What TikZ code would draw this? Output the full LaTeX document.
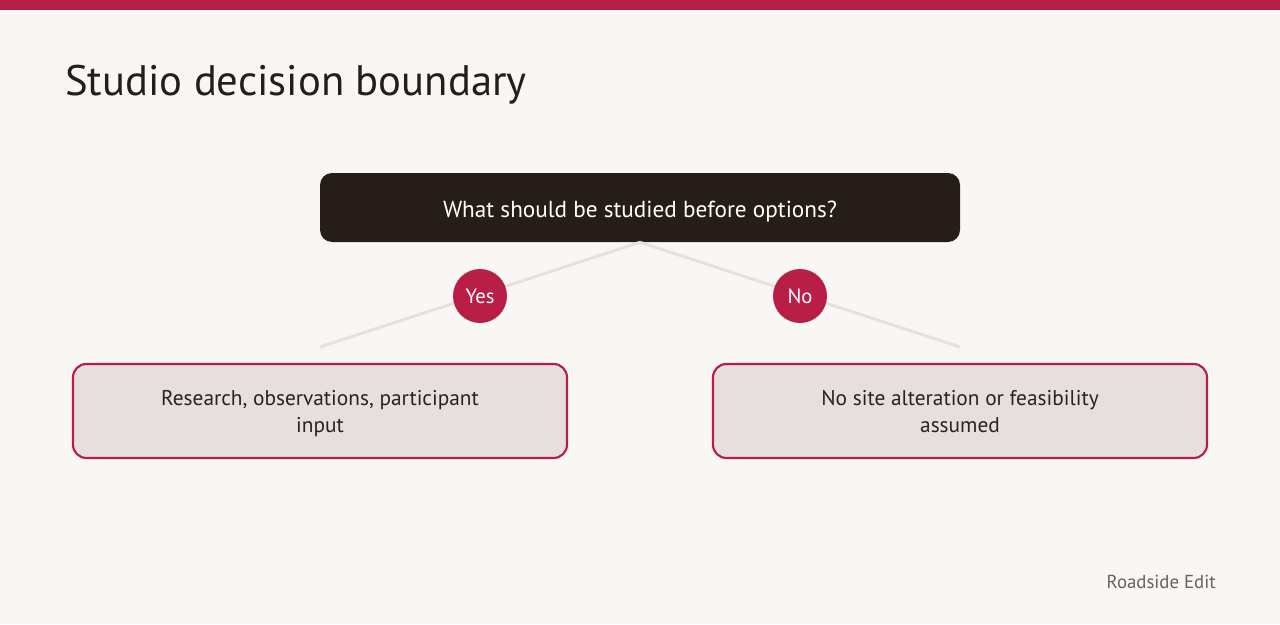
\documentclass[tikz,border=0pt]{standalone}
\usepackage{fontspec}
\setmainfont{PT Sans}
\definecolor{bg}{HTML}{F8F7F5}
\definecolor{crim}{HTML}{B91E47}
\definecolor{dark}{HTML}{261D19}
\definecolor{linec}{HTML}{E6E1DD}
\definecolor{boxfill}{HTML}{E6DFDD}
\definecolor{txt}{HTML}{2A2220}
\definecolor{grey}{HTML}{6B605C}
\tikzset{
  px/.style={x=0.75pt,y=-0.75pt},
  question/.style={draw=none,fill=dark,rounded corners=9pt,minimum width=480pt,minimum height=51.75pt,inner sep=0pt},
  qtext/.style={anchor=base,inner sep=0pt,text=white,font=\fontsize{17.4pt}{20pt}\selectfont},
  answer/.style={draw=crim,line width=1.6pt,fill=boxfill,rounded corners=10pt,minimum width=370.5pt,minimum height=70.5pt,inner sep=0pt},
  atext/.style={anchor=base,inner sep=0pt,text=txt,font=\fontsize{16pt}{20pt}\selectfont},
  badge/.style={circle,fill=crim,minimum size=40.5pt,inner sep=0pt,text=white,font=\fontsize{15.5pt}{18pt}\selectfont},
  conn/.style={draw=linec,line width=2.25pt},
}
\begin{document}
\begin{tikzpicture}[px]
\fill[bg] (0,0) rectangle (1280,624);
\useasboundingbox (0,0) rectangle (1280,624);
\fill[crim] (0,0) rectangle (1280,10);
\node[anchor=base west,inner sep=0pt,text=dark,font=\fontsize{32pt}{38pt}\selectfont] (title) at (65,96) {Studio decision boundary};
\node[question] (q) at (640,207.5) {};
\node[qtext] (qt) at (640,217) {What should be studied before options?};
\coordinate (lend) at (320,347);
\coordinate (rend) at (960,347);
\draw[conn] (q.south) -- (lend);
\draw[conn] (q.south) -- (rend);
\node[badge] (yes) at (480,296) {\raisebox{-2pt}{Yes}};
\node[badge] (no) at (800,296) {\raisebox{-2pt}{No}};
\node[answer] (a) at (320,411) {};
\node[atext] (a1) at (320,405) {Research, observations, participant};
\node[atext] (a2) at (320,432) {input};
\node[answer] (b) at (960,411) {};
\node[atext] (b1) at (960,405) {No site alteration or feasibility};
\node[atext] (b2) at (960,432) {assumed};
\node[anchor=base east,inner sep=0pt,text=grey,font=\fontsize{14.1pt}{16pt}\selectfont] (brand) at (1216,588) {Roadside Edit};
\end{tikzpicture}
\end{document}
